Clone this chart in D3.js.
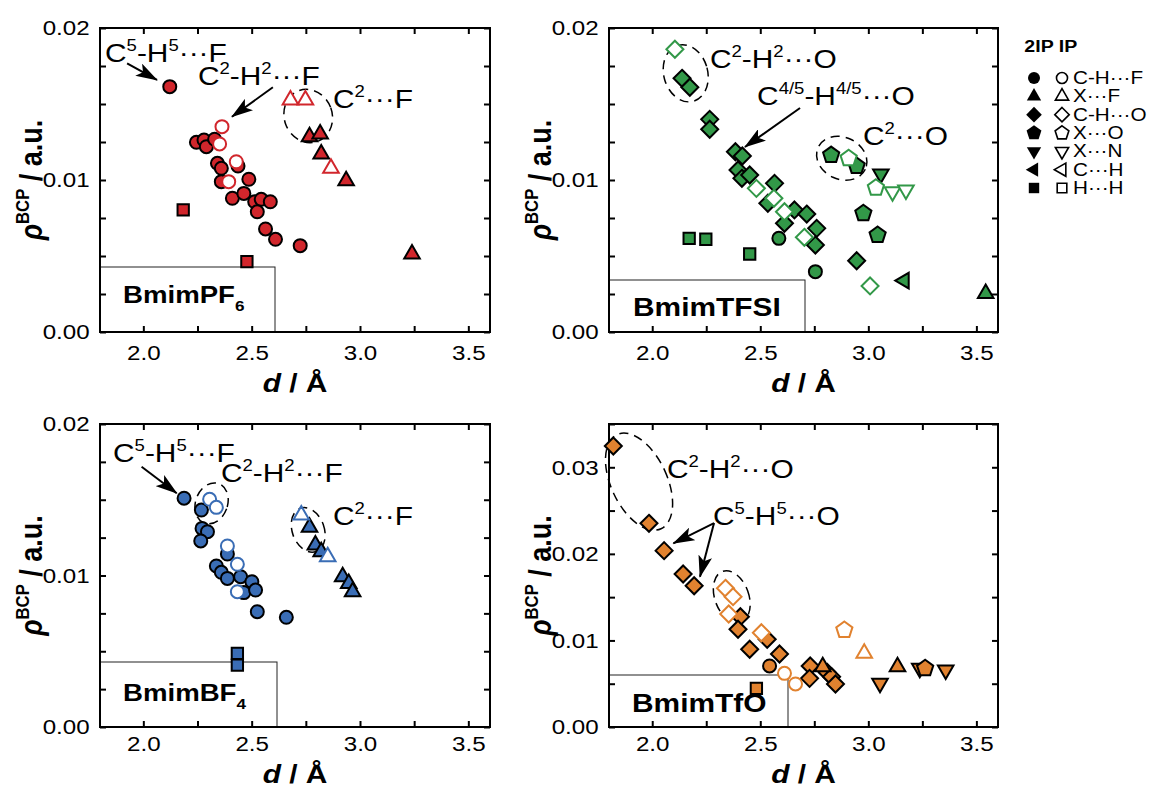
<!DOCTYPE html>
<html>
<head>
<meta charset="utf-8">
<script src="https://cdn.jsdelivr.net/npm/d3@7"></script>
<style>
  body { margin: 0; background: #fff; }
  text { font-family: "Liberation Sans", Arial, sans-serif; }
</style>
</head>
<body>
<svg id="chart" width="1156" height="788"></svg>
<script>
// tick values
const dTicks = [2.0, 2.25, 2.5, 2.75, 3.0, 3.25, 3.5];
const dLabels = [2.0, 2.5, 3.0, 3.5];
const rhoTicks02 = [0, 0.0025, 0.005, 0.0075, 0.01, 0.0125, 0.015, 0.0175, 0.02];
const rhoTicks035 = [0, 0.005, 0.01, 0.015, 0.02, 0.025, 0.03, 0.035];
const rhoLabels = [0, 0.01, 0.02, 0.03];

// interaction types (legend order)
const types = ["CHF", "XF", "CHO", "XO", "XN", "CH", "HH"];
const typeNames = ["C-H···F", "X···F", "C-H···O", "X···O", "X···N", "C···H", "H···H"];

// [type, model, d (Å), rho (a.u.)]
const pf6 = [
  ["CHF","2IP",2.122,0.01614],["CHF","2IP",2.245,0.01248],["CHF","2IP",2.28,0.01263],["CHF","2IP",2.291,0.01219],
  ["CHF","2IP",2.329,0.01268],["CHF","2IP",2.342,0.0111],["CHF","2IP",2.36,0.01077],["CHF","2IP",2.36,0.00989],
  ["CHF","2IP",2.437,0.01092],["CHF","2IP",2.487,0.01005],["CHF","2IP",2.411,0.0088],["CHF","2IP",2.464,0.00912],
  ["CHF","2IP",2.514,0.00857],["CHF","2IP",2.544,0.00873],["CHF","2IP",2.586,0.00857],["CHF","2IP",2.526,0.00791],
  ["CHF","2IP",2.564,0.00678],["CHF","2IP",2.61,0.0061],["CHF","2IP",2.724,0.00568],
  ["HH","2IP",2.184,0.00803],["HH","2IP",2.478,0.00463],
  ["XF","2IP",2.767,0.01285],["XF","2IP",2.816,0.01303],["XF","2IP",2.821,0.01171],["XF","2IP",2.936,0.00995],["XF","2IP",3.24,0.00513],
  ["CHF","IP",2.363,0.01351],["CHF","IP",2.352,0.01237],["CHF","IP",2.429,0.0112],["CHF","IP",2.394,0.00989],
  ["XF","IP",2.679,0.01526],["XF","IP",2.748,0.01526],["XF","IP",2.866,0.01077]
];

const tfsi = [
  ["CHO","2IP",2.138,0.01669],["CHO","2IP",2.174,0.0161],["CHO","2IP",2.266,0.01399],["CHO","2IP",2.266,0.01334],
  ["CHO","2IP",2.385,0.01186],["CHO","2IP",2.417,0.01158],["CHO","2IP",2.397,0.01066],["CHO","2IP",2.415,0.01011],
  ["CHO","2IP",2.451,0.01033],["CHO","2IP",2.566,0.00978],["CHO","2IP",2.535,0.00847],["CHO","2IP",2.612,0.00715],
  ["CHO","2IP",2.658,0.00803],["CHO","2IP",2.715,0.00776],["CHO","2IP",2.761,0.00682],["CHO","2IP",2.755,0.00572],
  ["CHO","2IP",2.946,0.00469],
  ["CHF","2IP",2.586,0.00616],["CHF","2IP",2.755,0.00397],
  ["HH","2IP",2.171,0.00616],["HH","2IP",2.248,0.0061],["HH","2IP",2.451,0.00513],
  ["XO","2IP",2.828,0.01164],["XO","2IP",2.946,0.01092],["XO","2IP",2.977,0.00781],["XO","2IP",3.043,0.00638],
  ["XN","2IP",3.058,0.0104],["CH","2IP",3.166,0.00338],["XF","2IP",3.543,0.00254],
  ["CHO","IP",2.105,0.0186],["CHO","IP",2.482,0.00945],["CHO","IP",2.563,0.0088],["CHO","IP",2.612,0.00791],
  ["CHO","IP",2.704,0.00623],["CHO","IP",3.008,0.00303],
  ["XO","IP",2.909,0.01143],["XO","IP",3.035,0.00949],
  ["XN","IP",3.112,0.00923],["XN","IP",3.174,0.00934]
];

const bf4 = [
  ["CHF","2IP",2.188,0.0151],["CHF","2IP",2.268,0.01432],["CHF","2IP",2.271,0.01311],["CHF","2IP",2.296,0.01289],
  ["CHF","2IP",2.265,0.01228],["CHF","2IP",2.388,0.01142],["CHF","2IP",2.337,0.01063],["CHF","2IP",2.36,0.01021],
  ["CHF","2IP",2.388,0.00981],["CHF","2IP",2.449,0.00992],["CHF","2IP",2.501,0.00959],["CHF","2IP",2.464,0.00887],
  ["CHF","2IP",2.518,0.00904],["CHF","2IP",2.526,0.00761],["CHF","2IP",2.66,0.00724],
  ["HH","2IP",2.434,0.00486],["HH","2IP",2.434,0.00409],
  ["XF","2IP",2.767,0.01318],["XF","2IP",2.794,0.01201],["XF","2IP",2.821,0.01157],["XF","2IP",2.92,0.00992],
  ["XF","2IP",2.948,0.00948],["XF","2IP",2.966,0.00893],
  ["CHF","IP",2.306,0.01503],["CHF","IP",2.337,0.0145],["CHF","IP",2.388,0.01195],["CHF","IP",2.434,0.01074],["CHF","IP",2.434,0.00893],
  ["XF","IP",2.729,0.01399],["XF","IP",2.851,0.01124]
];

const tfo = [
  ["CHO","IP",2.339,0.01602],["CHO","IP",2.374,0.01505],["CHO","IP",2.354,0.01305],["CHO","IP",2.505,0.01089],
  ["CHF","IP",2.612,0.0062],["CHF","IP",2.663,0.00497],["XO","IP",2.889,0.0112],["XF","IP",2.981,0.00851],
  ["CHO","2IP",1.82,0.03246],["CHO","2IP",1.985,0.02353],["CHO","2IP",2.055,0.02037],["CHO","2IP",2.143,0.01767],
  ["CHO","2IP",2.194,0.01632],["CHO","2IP",2.408,0.01274],["CHO","2IP",2.397,0.01129],["CHO","2IP",2.532,0.01013],
  ["CHO","2IP",2.451,0.00898],["CHO","2IP",2.589,0.00843],["CHO","2IP",2.731,0.00705],["CHO","2IP",2.728,0.00562],
  ["CHO","2IP",2.81,0.0063],["CHO","2IP",2.83,0.0058],["CHO","2IP",2.848,0.00497],
  ["CHF","2IP",2.543,0.00705],["HH","2IP",2.482,0.00447],
  ["XF","2IP",2.789,0.00697],["XF","2IP",3.135,0.00697],
  ["XN","2IP",3.054,0.00505],["XN","2IP",3.238,0.00678],["XN","2IP",3.358,0.00658],
  ["XO","2IP",3.263,0.00678]
];

// annotations: text [label, d, rho], arrows [d1, r1, d2, r2], rings [d, r, rx, ry, rot]
const pf6Notes = [["C^{5}-H^{5}···F",1.823,0.01776],["C^{2}-H^{2}···F",2.252,0.01625],["C^{2}···F",2.875,0.01474]];
const pf6Arrows = [[1.925,0.01768,2.063,0.01658],[2.598,0.0161,2.409,0.01416]];
const pf6Rings = [[2.761,0.01421,24,27,-20]];
const tfsiNotes = [["C^{2}-H^{2}···O",2.267,0.01737],["C^{4/5}-H^{4/5}···O",2.485,0.01493],["C^{2}···O",2.975,0.0123]];
const tfsiArrows = [[2.684,0.01474,2.429,0.01217]];
const tfsiRings = [[2.155,0.01702,22,29,-15],[2.877,0.01143,26,21,25]];
const bf4Notes = [["C^{5}-H^{5}···F",1.86,0.01749],["C^{2}-H^{2}···F",2.358,0.01617],["C^{2}···F",2.875,0.01333]];
const bf4Arrows = [[1.992,0.01718,2.154,0.01543]];
const bf4Rings = [[2.315,0.01476,16,21,20],[2.761,0.01301,16,23,-20]];
const tfoNotes = [["C^{2}-H^{2}···O",2.068,0.02876],["C^{5}-H^{5}···O",2.281,0.02333]];
const tfoArrows = [[2.286,0.02356,2.098,0.02122],[2.286,0.02356,2.221,0.01736]];
const tfoRings = [[1.939,0.02834,28,52,-25],[2.368,0.01505,17,27,-20]];

const panels = [
  {left:100, top:28, width:390, height:304, ymax:0.02, yTicks:rhoTicks02, color:"#d1262c", data:pf6, titleDy:60,
   notes:pf6Notes, arrows:pf6Arrows, rings:pf6Rings, label:"BmimPF_{6}", labelSize:24, labelX:123, labelY:303, boxTop:267, boxRight:275},
  {left:609, top:28, width:389, height:304, ymax:0.02, yTicks:rhoTicks02, color:"#329848", data:tfsi, titleDy:60,
   notes:tfsiNotes, arrows:tfsiArrows, rings:tfsiRings, label:"BmimTFSI", labelSize:26, labelX:633, labelY:316, boxTop:280, boxRight:805},
  {left:100, top:424, width:390, height:303, ymax:0.02, yTicks:rhoTicks02, color:"#3a6db5", data:bf4, titleDy:56,
   notes:bf4Notes, arrows:bf4Arrows, rings:bf4Rings, label:"BmimBF_{4}", labelSize:24, labelX:123, labelY:701, boxTop:662, boxRight:277},
  {left:609, top:424, width:389, height:303, ymax:0.035, yTicks:rhoTicks035, color:"#e1822f", data:tfo, titleDy:56,
   notes:tfoNotes, arrows:tfoArrows, rings:tfoRings, label:"BmimTfO", labelSize:26, labelX:632, labelY:712, boxTop:675, boxRight:788}
];

const SX = 1.15; // horizontal stretch of the original figure's text
const svg = d3.select("#chart");

svg.append("defs").append("marker")
  .attr("id", "arrow").attr("markerUnits", "userSpaceOnUse")
  .attr("markerWidth", 24).attr("markerHeight", 14)
  .attr("refX", 21).attr("refY", 7).attr("orient", "auto")
  .append("path").attr("d", "M0,0 L22,7 L0,14 L5,7 Z").attr("fill", "#000");

function polygon(n, r, a0) {
  const p = d3.path();
  for (let i = 0; i < n; i++) {
    const a = a0 + i * 2 * Math.PI / n;
    if (i) p.lineTo(r * Math.cos(a), r * Math.sin(a));
    else p.moveTo(r * Math.cos(a), r * Math.sin(a));
  }
  p.closePath();
  return p.toString();
}
const deg = Math.PI / 180;
const shapes = {
  CHF: s => { const p = d3.path(); p.moveTo(6.5 * s, 0); p.arc(0, 0, 6.5 * s, 0, 2 * Math.PI); return p.toString(); },
  XF: s => polygon(3, 9 * s, -90 * deg),
  CHO: s => polygon(4, 8.5 * s, -90 * deg),
  XO: s => polygon(5, 8.5 * s, -90 * deg),
  XN: s => polygon(3, 9 * s, 90 * deg),
  CH: s => polygon(3, 9 * s, 180 * deg),
  HH: s => polygon(4, 8 * s, 45 * deg)
};

// text with ^{sup}, _{sub}, *{italic}
function rich(g, x, y, str, size, opts = {}) {
  const t = g.append("text")
    .attr("transform", `translate(${x},${y}) scale(${SX},1)` + (opts.rotate ? " rotate(-90)" : ""))
    .attr("font-size", size)
    .attr("text-anchor", opts.anchor || "start")
    .attr("font-weight", opts.bold ? "bold" : "normal")
    .attr("fill", "#000");
  const parts = str.split(/(\^\{[^}]*\}|_\{[^}]*\}|\*\{[^}]*\})/).filter(s => s);
  let shift = 0;
  parts.forEach(s => {
    let txt = s, target = 0, fs = size, ital = false;
    if (s.startsWith("^{")) { txt = s.slice(2, -1); target = -0.42 * size; fs = 0.62 * size; }
    else if (s.startsWith("_{")) { txt = s.slice(2, -1); target = 0.33 * size; fs = 0.62 * size; }
    else if (s.startsWith("*{")) { txt = s.slice(2, -1); ital = true; }
    t.append("tspan").attr("font-size", fs).attr("dy", target - shift)
      .attr("font-style", ital ? "italic" : null).text(txt);
    shift = target;
  });
  return t;
}

function drawPanel(p) {
  const g = svg.append("g");
  const x = d3.scaleLinear([1.8, 3.6], [p.left, p.left + p.width]);
  const y = d3.scaleLinear([0, p.ymax], [p.top + p.height, p.top]);
  const bottom = p.top + p.height, right = p.left + p.width;

  // sample name box
  g.append("rect").attr("x", p.left).attr("y", p.boxTop)
    .attr("width", p.boxRight - p.left).attr("height", bottom - p.boxTop)
    .attr("fill", "none").attr("stroke", "#222").attr("stroke-width", 1);
  rich(g, p.labelX, p.labelY, p.label, p.labelSize, {bold: true});

  // axes, ticks inward on all sides
  const styleAxis = a => {
    a.select(".domain").remove();
    a.selectAll("line").attr("stroke", "#000").attr("stroke-width", 2);
    a.attr("font-size", 21).attr("font-family", "Liberation Sans, Arial, sans-serif");
    a.selectAll("text").attr("fill", "#000").attr("transform", `scale(${SX},1)`);
  };
  g.append("g").attr("transform", `translate(0,${bottom})`)
    .call(d3.axisBottom(x).tickValues(dTicks).tickSizeInner(-6).tickSizeOuter(0).tickPadding(p.titleDy - 47)
      .tickFormat(d => dLabels.includes(d) ? d3.format(".1f")(d) : ""))
    .call(styleAxis);
  g.append("g").attr("transform", `translate(0,${p.top})`)
    .call(d3.axisTop(x).tickValues(dTicks).tickSizeInner(-6).tickSizeOuter(0).tickFormat(""))
    .call(styleAxis);
  g.append("g").attr("transform", `translate(${p.left},0)`)
    .call(d3.axisLeft(y).tickValues(p.yTicks).tickSizeInner(-6).tickSizeOuter(0).tickPadding(9)
      .tickFormat(d => rhoLabels.some(v => Math.abs(v - d) < 1e-9) ? d3.format(".2f")(d) : ""))
    .call(styleAxis);
  g.append("g").attr("transform", `translate(${right},0)`)
    .call(d3.axisRight(y).tickValues(p.yTicks).tickSizeInner(-6).tickSizeOuter(0).tickFormat(""))
    .call(styleAxis);
  g.append("rect").attr("x", p.left).attr("y", p.top).attr("width", p.width).attr("height", p.height)
    .attr("fill", "none").attr("stroke", "#000").attr("stroke-width", 2);

  // axis titles
  rich(g, (p.left + right) / 2, bottom + p.titleDy, "*{d} / Å", 26, {bold: true, anchor: "middle"});
  rich(g, p.left - 58, (p.top + bottom) / 2, "*{ρ}^{BCP} / a.u.", 27, {bold: true, anchor: "middle", rotate: true});

  // rings and arrows
  g.selectAll(".ring").data(p.rings).join("ellipse").attr("class", "ring")
    .attr("transform", d => `translate(${x(d[0])},${y(d[1])}) rotate(${d[4]})`)
    .attr("rx", d => d[2]).attr("ry", d => d[3])
    .attr("fill", "none").attr("stroke", "#000").attr("stroke-width", 1.5).attr("stroke-dasharray", "9,6");
  g.selectAll(".arr").data(p.arrows).join("line").attr("class", "arr")
    .attr("x1", d => x(d[0])).attr("y1", d => y(d[1]))
    .attr("x2", d => x(d[2])).attr("y2", d => y(d[3]))
    .attr("stroke", "#000").attr("stroke-width", 2).attr("marker-end", "url(#arrow)");

  // points: 2IP filled first, IP open on top
  const sorted = p.data.filter(d => d[1] === "2IP").concat(p.data.filter(d => d[1] === "IP"));
  g.append("g").selectAll("path").data(sorted).join("path")
    .attr("transform", d => `translate(${x(d[2])},${y(d[3])})`)
    .attr("d", d => shapes[d[0]](1))
    .attr("fill", d => d[1] === "2IP" ? p.color : "#fff")
    .attr("stroke", d => d[1] === "2IP" ? "#000" : p.color)
    .attr("stroke-width", 2).attr("stroke-linejoin", "miter");

  p.notes.forEach(n => rich(g, x(n[1]), y(n[2]), n[0], 26));
}

panels.forEach(drawPanel);

// legend
const lg = svg.append("g");
rich(lg, 1039, 52, "2IP", 17, {bold: true, anchor: "middle"});
rich(lg, 1068, 52, "IP", 17, {bold: true, anchor: "middle"});
const rowY = d3.scalePoint(types, [78, 188]);
types.forEach((t, i) => {
  lg.append("path").attr("transform", `translate(1034,${rowY(t)})`).attr("d", shapes[t](0.92)).attr("fill", "#000");
  lg.append("path").attr("transform", `translate(1062,${rowY(t)})`).attr("d", shapes[t](0.85))
    .attr("fill", "#fff").attr("stroke", "#000").attr("stroke-width", 1.6);
  rich(lg, 1073, rowY(t) + 6, typeNames[i], 18);
});
</script>
</body>
</html>
